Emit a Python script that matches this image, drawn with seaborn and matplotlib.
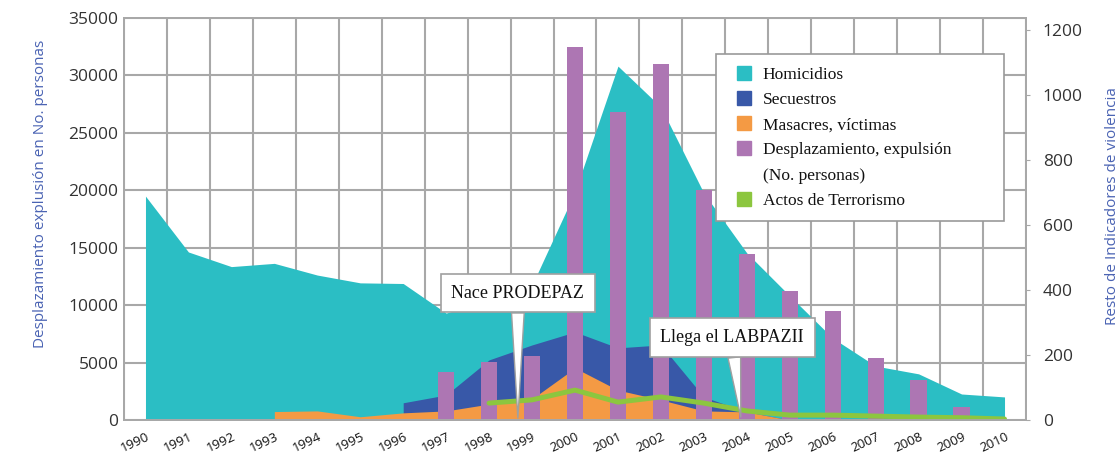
import numpy as np
import pandas as pd
import matplotlib
matplotlib.use("Agg")
import matplotlib.pyplot as plt
import matplotlib.transforms as mtransforms
from matplotlib.lines import Line2D
import seaborn as sns

# Años del eje
years = list(range(1990, 2011))

# Desplazamiento, expulsión (No. personas) - eje izquierdo
desplaz_years = list(range(1997, 2010))
desplazamiento = [4200, 5050, 5570, 32470, 26840, 30970, 20020, 14430, 11260, 9520, 5420, 3480, 1130]

# Resto de indicadores de violencia - eje derecho
homicidios = [689, 517, 472, 482, 446, 422, 420, 329, 369, 415, 702,
              1089, 963, 698, 514, 382, 252, 166, 142, 80, 71]
secuestros_years = list(range(1996, 2006))
secuestros = [53, 77, 185, 231, 271, 222, 231, 71, 25, 0]
masacres_years = list(range(1993, 2006))
masacres = [26, 28, 10, 22, 28, 49, 65, 160, 92, 62, 28, 25, 0]
terror_years = list(range(1998, 2011))
terrorismo = [52, 62, 92, 55, 71, 52, 28, 15, 15, 12, 9, 7, 3]

# Notas (texto, x de la punta, y de la punta, x del cuadro, y del cuadro) en unidades del eje izquierdo
notas = [
    ("Nace PRODEPAZ", 1998.67, 170, 1998.67, 11050),
    ("Llega el LABPAZII", 2003.86, 260, 2003.66, 7180),
]

TEAL = "#2bbec4"
BLUE = "#3858a8"
ORANGE = "#f49a44"
PURPLE = "#ad76b3"
GREEN = "#8cc63f"
GRID = "#a8a8a8"
LABEL_BLUE = "#4a63b3"

sns.set_style("white")
plt.rcParams['font.family'] = ['Open Sans', 'DejaVu Sans']

fig = plt.figure(figsize=(11.2, 4.55), dpi=100)
ax = fig.add_axes([124 / 1120, 35 / 455, 902 / 1120, 402 / 455])
ax2 = ax.twinx()
ax.set_ylim(0, 35000)
ax2.set_ylim(0, 1237)
ax.set_xlim(1989.5, 2010.5)

# Áreas (eje derecho), dibujadas en ax para quedar debajo de las barras
ax.fill_between(years, 0, homicidios, color=TEAL, lw=0, zorder=1, transform=ax2.transData)
ax.fill_between(secuestros_years, 0, secuestros, color=BLUE, lw=0, zorder=1.1, transform=ax2.transData)
ax.fill_between(masacres_years, 0, masacres, color=ORANGE, lw=0, zorder=1.2, transform=ax2.transData)

# Barras de desplazamiento
df_bar = pd.DataFrame({'year': desplaz_years, 'personas': desplazamiento})
sns.barplot(data=df_bar, x='year', y='personas', native_scale=True, color=PURPLE,
            saturation=1, width=0.38, errorbar=None, ax=ax, zorder=2, linewidth=0)

# Línea de actos de terrorismo
df_t = pd.DataFrame({'year': terror_years, 'actos': terrorismo})
sns.lineplot(data=df_t, x='year', y='actos', ax=ax, color=GREEN, lw=3.6,
             transform=ax2.transData, zorder=3)

ax.set_xlim(1989.5, 2010.5)
ax.set_ylim(0, 35000)
ax2.set_ylim(0, 1237)

# Ejes y rejilla
ax.set_yticks(np.arange(0, 35001, 5000))
ax2.set_yticks(np.arange(0, 1201, 200))
ax.set_xticks(years)
ax.set_xticks(np.arange(1989.5, 2011, 1), minor=True)
ax.set_axisbelow(True)
ax.grid(axis='y', which='major', color=GRID, lw=1.5)
ax.grid(axis='x', which='minor', color=GRID, lw=1.5)
ax.grid(axis='x', which='major', visible=False)

ax.tick_params(axis='y', length=0, pad=4, labelsize=12.5, labelcolor='#333333')
ax2.tick_params(axis='y', length=3, color=GRID, pad=9, labelsize=12.5, labelcolor='#333333')
ax.tick_params(axis='x', which='both', length=0, pad=7)
ax.set_xticklabels([str(y) for y in years], rotation=25, ha='right', fontsize=9.5, color='#111111')
offset = mtransforms.ScaledTranslation(6 / 100, 0, fig.dpi_scale_trans)
for lab in ax.get_xticklabels():
    lab.set_transform(lab.get_transform() + offset)

for a in (ax, ax2):
    for s in a.spines.values():
        s.set_color(GRID)
        s.set_linewidth(1.3)

ax.set_xlabel('')
ax.set_ylabel('Desplazamiento explusión en No. personas', color=LABEL_BLUE, fontsize=11)
ax.yaxis.set_label_coords(-0.084, 0.562)
ax2.set_ylabel('Resto de Indicadores de violencia', color=LABEL_BLUE, fontsize=11)
ax2.yaxis.set_label_coords(1.088, 0.532)

# Leyenda
handles = [
    Line2D([], [], marker='s', ls='none', ms=9.5, mfc=TEAL, mec=TEAL),
    Line2D([], [], marker='s', ls='none', ms=9.5, mfc=BLUE, mec=BLUE),
    Line2D([], [], marker='s', ls='none', ms=9.5, mfc=ORANGE, mec=ORANGE),
    Line2D([], [], marker='s', ls='none', ms=9.5, mfc=PURPLE, mec=PURPLE),
    Line2D([], [], marker='s', ls='none', ms=9.5, alpha=0),
    Line2D([], [], marker='s', ls='none', ms=9.5, mfc=GREEN, mec=GREEN),
]
labels = ['Homicidios', 'Secuestros', 'Masacres, víctimas',
          'Desplazamiento, expulsión', '(No. personas)', 'Actos de Terrorismo']
leg = ax.legend(handles, labels, loc='upper left', mode='expand',
                bbox_to_anchor=(716 / 1120, 0.49, 288 / 1120, 1 - 54 / 455 - 0.49),
                bbox_transform=fig.transFigure, borderaxespad=0, borderpad=0.73,
                handlelength=1.82, handletextpad=0.15, labelspacing=0.52,
                fancybox=False, framealpha=1, edgecolor='#999999',
                prop={'family': 'Liberation Serif', 'size': 12.5})
leg.get_frame().set_linewidth(1.2)
for t in leg.get_texts():
    t.set_color('#111111')
leg.set_zorder(10)

# Notas con puntero
for texto, xp, yp, xt, yt in notas:
    ax.annotate(texto, xy=(xp, yp), xytext=(xt, yt), ha='center', va='center',
                fontsize=13, family='Liberation Serif', color='#111111', zorder=6,
                bbox=dict(boxstyle='square,pad=0.6', fc='white', ec='#a0a0a0', lw=1.2),
                arrowprops=dict(arrowstyle='wedge,tail_width=0.7,shrink_factor=0.5',
                                fc='white', ec='#a0a0a0', lw=1, shrinkA=0, shrinkB=0))

fig.savefig('out.png', dpi=100)
